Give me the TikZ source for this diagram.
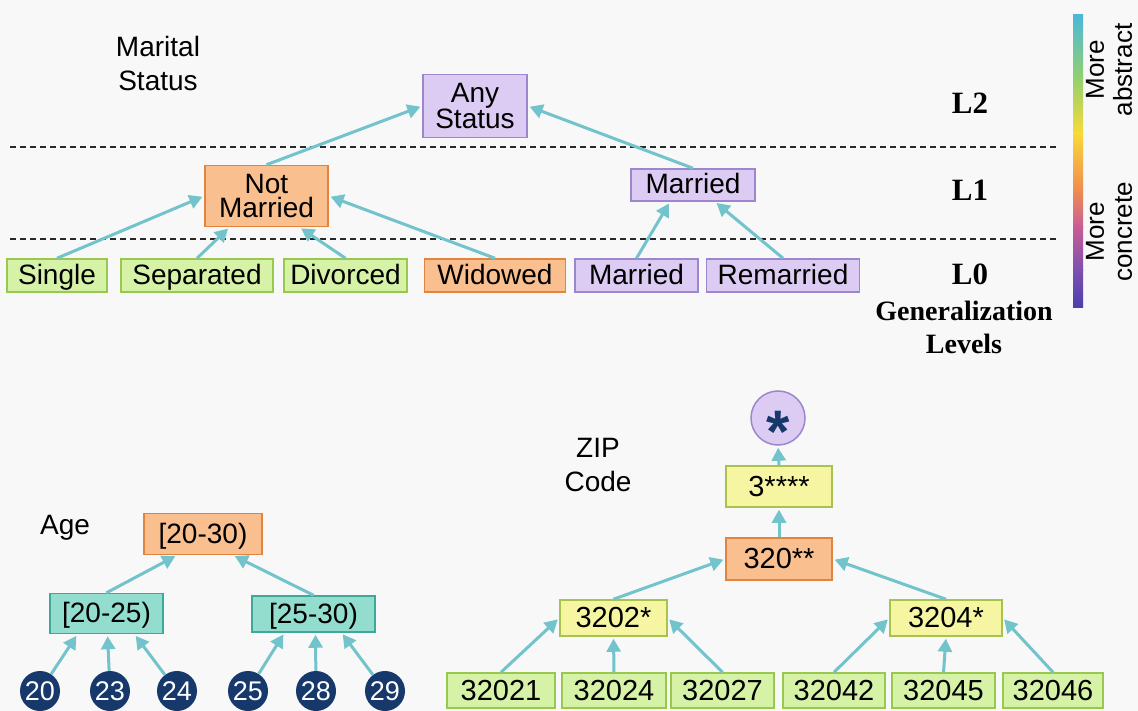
\documentclass[tikz,border=0pt]{standalone}
\usepackage{fontspec}
\setmainfont{Liberation Sans}
\newfontfamily\levelfont{Liberation Serif}
\usetikzlibrary{arrows.meta,calc}

\definecolor{bg}{HTML}{F8F8F8}
\definecolor{arrowc}{HTML}{72C3CB}
\definecolor{greenF}{HTML}{D5F2A6}
\definecolor{greenD}{HTML}{98C84E}
\definecolor{orangeF}{HTML}{F9BF8E}
\definecolor{orangeD}{HTML}{E0843F}
\definecolor{purpleF}{HTML}{DCCCF3}
\definecolor{purpleD}{HTML}{9C86CC}
\definecolor{tealF}{HTML}{93DDCF}
\definecolor{tealD}{HTML}{3FA898}
\definecolor{yellowF}{HTML}{F6F6A2}
\definecolor{yellowD}{HTML}{A8C24E}
\definecolor{navy}{HTML}{17386B}
\definecolor{sepgray}{HTML}{282828}
% colour bar stops
\definecolor{cb1}{HTML}{4CB8D8}
\definecolor{cb2}{HTML}{91D070}
\definecolor{cb3}{HTML}{F8DA38}
\definecolor{cb4}{HTML}{F08C50}
\definecolor{cb5}{HTML}{C85C96}
\definecolor{cb6}{HTML}{7D50B0}
\definecolor{cb7}{HTML}{4B3FAE}

\tikzset{
  % box shapes: single line (fixed text box so baselines line up) and two lines
  box/.style={draw, line width=1.5pt, inner sep=0pt, align=center,
    font=\fontsize{28}{28}\selectfont, text height=19pt, text depth=1pt},
  box2/.style={draw, line width=1.5pt, inner sep=0pt, align=center,
    font=\fontsize{28}{24}\selectfont},
  % box colours
  gcol/.style={fill=greenF, draw=greenD},
  ocol/.style={fill=orangeF, draw=orangeD},
  pcol/.style={fill=purpleF, draw=purpleD},
  tcol/.style={fill=tealF, draw=tealD},
  ycol/.style={fill=yellowF, draw=yellowD},
  zfont/.style={font=\fontsize{29}{29}\selectfont, text height=20pt, text depth=1pt},
  num/.style={circle, fill=navy, minimum size=40pt, inner sep=0pt,
    text=white, font=\fontsize{27}{27}\selectfont},
  link/.style={draw=arrowc, line width=3pt,
    -{Triangle[length=13pt,width=14pt]}, shorten >=2pt},
  sepline/.style={draw=sepgray, line width=1.8pt, dash pattern=on 6pt off 4pt},
  title/.style={align=center, font=\fontsize{28}{34}\selectfont},
  lvl/.style={font=\levelfont\bfseries\fontsize{31}{33}\selectfont, align=center},
  gen/.style={font=\levelfont\bfseries\fontsize{28}{33}\selectfont, align=center},
  barlbl/.style={rotate=90, align=center, font=\fontsize{26}{28}\selectfont}
}

\begin{document}
\begin{tikzpicture}[x=1pt,y=-1pt]
\useasboundingbox (0,0) rectangle (1138,711);
\fill[bg] (0,0) rectangle (1138,711);

% ---------- marital status hierarchy ----------
\node[title] (marital) at (158,63) {Marital\\Status};

\draw[sepline] (10,147) -- (1057,147);
\draw[sepline] (10,239) -- (1057,239);

\node[box2, pcol, minimum width=104pt, minimum height=63pt] (anys) at (475,106) {Any\\Status};
\node[box2, ocol, minimum width=123pt, minimum height=61pt] (notm) at (266.5,196) {Not\\Married};
\node[box, pcol, minimum width=124pt, minimum height=32pt] (mar1) at (693,185) {Married};

\node[box, gcol, minimum width=100pt, minimum height=33pt] (single) at (57,275.5) {Single};
\node[box, gcol, minimum width=152pt, minimum height=33pt] (sep) at (197,275.5) {Separated};
\node[box, gcol, minimum width=123pt, minimum height=33pt] (div) at (345.5,275.5) {Divorced};
\node[box, ocol, minimum width=141pt, minimum height=33pt] (wid) at (495,275.5) {Widowed};
\node[box, pcol, minimum width=123pt, minimum height=33pt] (mar0) at (636.5,275.5) {Married};
\node[box, pcol, minimum width=153pt, minimum height=33pt] (rem) at (783,275.5) {Remarried};

\draw[link] (notm.north) -- (anys.west);
\draw[link] (mar1.north) -- (anys.east);
\draw[link] (single.north) -- (notm.west);
\draw[link] (sep.north) -- ([xshift=-37pt]notm.south);
\draw[link] (div.north) -- ([xshift=33pt]notm.south);
\draw[link] (wid.north) -- (notm.east);
\draw[link] (mar0.north) -- ([xshift=-23pt]mar1.south);
\draw[link] (rem.north) -- ([xshift=22pt]mar1.south);

\node[lvl] (l2) at (970,103) {L2};
\node[lvl] (l1) at (970,190) {L1};
\node[lvl] (l0) at (970,274) {L0};
\node[gen] (genlv) at (964,327) {Generalization\\Levels};

% colour bar, built from stacked two-colour blends
\shade[top color=cb1, bottom color=cb2] (1073,15) rectangle (1083,77.5);
\shade[top color=cb2, bottom color=cb3] (1073,77) rectangle (1083,133.5);
\shade[top color=cb3, bottom color=cb4] (1073,133) rectangle (1083,190.5);
\shade[top color=cb4, bottom color=cb5] (1073,190) rectangle (1083,227.5);
\shade[top color=cb5, bottom color=cb6] (1073,227) rectangle (1083,270.5);
\shade[top color=cb6, bottom color=cb7] (1073,270) rectangle (1083,308);
\node[barlbl] (abs) at (1109,70) {More\\abstract};
\node[barlbl] (conc) at (1109,232) {More\\concrete};

% ---------- age hierarchy ----------
\node[title] (agelbl) at (65,528) {Age};
\node[box, ocol, minimum width=118pt, minimum height=41pt] (a2030) at (203,534) {[20-30)};
\node[box, tcol, minimum width=113pt, minimum height=40pt] (a2025) at (106.5,613.5) {[20-25)};
\node[box, tcol, minimum width=123pt, minimum height=36pt] (a2530) at (313.5,614) {[25-30)};

\node[num] (n20) at (40,691) {20};
\node[num] (n23) at (110,691) {23};
\node[num] (n24) at (177,691) {24};
\node[num] (n25) at (248,691) {25};
\node[num] (n28) at (316,691) {28};
\node[num] (n29) at (385,691) {29};

\draw[link] (a2025.north) -- ([xshift=-26pt]a2030.south);
\draw[link] (a2530.north) -- ([xshift=30pt]a2030.south);
\draw[link] (n20) -- ([xshift=-29pt]a2025.south);
\draw[link] (n23) -- ([xshift=1pt]a2025.south);
\draw[link] (n24) -- ([xshift=28pt]a2025.south);
\draw[link] (n25) -- ([xshift=-29pt]a2530.south);
\draw[link] (n28) -- ([xshift=2pt]a2530.south);
\draw[link] (n29) -- ([xshift=28pt]a2530.south);

% ---------- ZIP code hierarchy ----------
\node[title] (ziplbl) at (598,465) {ZIP\\Code};
\node[circle, fill=purpleF, draw=purpleD, line width=1.5pt, minimum size=54pt,
  inner sep=0pt, text=navy, font=\bfseries\fontsize{60}{60}\selectfont]
  (zany) at (778,418) {\raisebox{-0.58em}[0pt][0pt]{*}};
\node[box, ycol, zfont, minimum width=106pt, minimum height=41pt] (z3) at (779,486.5) {3****};
\node[box, ocol, zfont, minimum width=106pt, minimum height=42pt] (z320) at (779,559) {320**};
\node[box, ycol, zfont, minimum width=107pt, minimum height=36pt] (z3202) at (613.5,618) {3202*};
\node[box, ycol, zfont, minimum width=112pt, minimum height=36pt] (z3204) at (946,618) {3204*};

\node[box, gcol, zfont, minimum width=108pt, minimum height=35pt] (z21) at (501,690.5) {32021};
\node[box, gcol, zfont, minimum width=104pt, minimum height=35pt] (z24) at (614,690.5) {32024};
\node[box, gcol, zfont, minimum width=103pt, minimum height=35pt] (z27) at (722.5,690.5) {32027};
\node[box, gcol, zfont, minimum width=102pt, minimum height=35pt] (z42) at (834,690.5) {32042};
\node[box, gcol, zfont, minimum width=103pt, minimum height=35pt] (z45) at (943.5,690.5) {32045};
\node[box, gcol, zfont, minimum width=100pt, minimum height=35pt] (z46) at (1053,690.5) {32046};

\draw[link] (z3.north) -- (zany.south);
\draw[link] (z320.north) -- (z3.south);
\draw[link] (z3202.north) -- (z320.west);
\draw[link] (z3204.north) -- (z320.east);
\draw[link] (z21.north) -- (z3202.west);
\draw[link] (z24.north) -- (z3202.south);
\draw[link] (z27.north) -- (z3202.east);
\draw[link] (z42.north) -- (z3204.west);
\draw[link] (z45.north) -- (z3204.south);
\draw[link] (z46.north) -- (z3204.east);
\end{tikzpicture}
\end{document}
